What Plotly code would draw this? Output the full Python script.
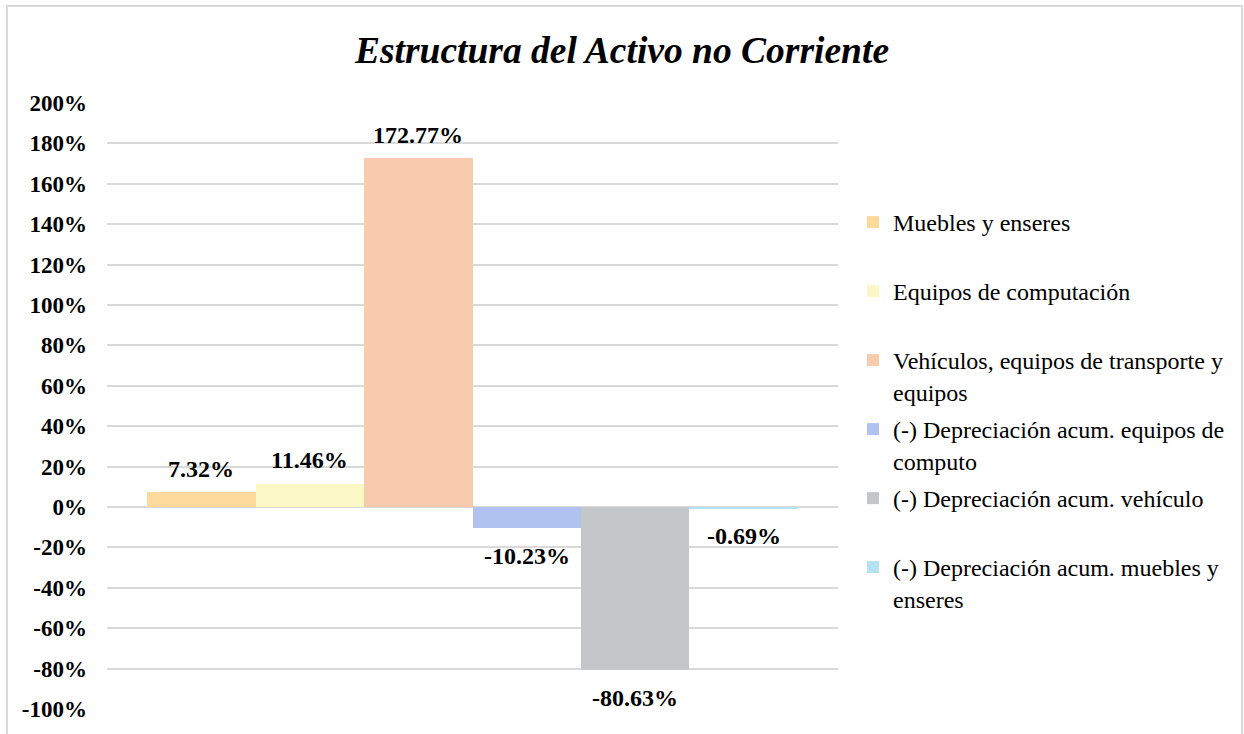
import plotly.graph_objects as go

# ---- data ----
series_names = [
    "Muebles y enseres",
    "Equipos de computación",
    "Vehículos, equipos de transporte y<br>equipos",
    "(-) Depreciación acum. equipos de<br>computo",
    "(-) Depreciación acum. vehículo",
    "(-) Depreciación acum. muebles y<br>enseres",
]
series_keys = ["Muebles", "Equipos", "Vehiculos", "DepComputo", "DepVehiculo", "DepMuebles"]
values = [7.32, 11.46, 172.77, -10.23, -80.63, -0.69]   # percent
colors = ["#FDD99B", "#FCF8C5", "#F8CBAD", "#AFC2F0", "#C5C6C7", "#B3E2F1"]

tick_vals = list(range(-100, 201, 20))
tick_text = [f"{v}%" for v in tick_vals]

FONT = "Liberation Serif, Times New Roman, serif"
W, H = 1244, 734

fig = go.Figure()
for i, (name, key, v, c) in enumerate(zip(series_names, series_keys, values, colors)):
    label = name if "<br>" in name else name + "<br>&nbsp;"
    fig.add_trace(go.Bar(
        x=[key], y=[v / 100.0], name=label, marker=dict(color=c, line=dict(width=0)),
        legendgroup=f"g{i}", hoverinfo="skip",
    ))
    fig.add_annotation(
        x=key, y=v / 100.0, text=f"<b>{v:.2f}%</b>", showarrow=False,
        yanchor="middle", yshift=23.5 if v >= 0 else -28,
        font=dict(family=FONT, size=24, color="#000000"),
    )

fig.update_layout(
    width=W, height=H,
    margin=dict(l=107, r=406, t=103, b=25, autoexpand=False),
    paper_bgcolor="white", plot_bgcolor="white",
    barmode="overlay", bargap=0,
    title=dict(text="<b><i>Estructura del Activo no Corriente</i></b>",
               x=0.5, xanchor="center", xref="container",
               y=1 - 50 / H, yanchor="middle", yref="container",
               font=dict(family=FONT, size=37.5, color="#000000")),
    xaxis=dict(showticklabels=False, showgrid=False, zeroline=False, showline=False,
               ticks="", range=[-0.5 - 0.37, 5.5 + 0.37], fixedrange=True),
    yaxis=dict(range=[-1, 2], tickvals=[v / 100 for v in tick_vals], ticktext=tick_text,
               showgrid=True, gridcolor="#D9D9D9", gridwidth=1.5,
               zeroline=True, zerolinecolor="#D9D9D9", zerolinewidth=1.5,
               showline=False, ticks="", ticklabelstandoff=19,
               tickfont=dict(family=FONT, size=23, color="#000000", weight="bold")),
    legend=dict(x=853 / W, xref="container", xanchor="left",
                y=1 - 200 / H, yref="container", yanchor="top",
                valign="top", tracegroupgap=3.6, itemwidth=30, maxheight=700,
                font=dict(family=FONT, size=24, color="#000000"),
                bgcolor="rgba(0,0,0,0)", borderwidth=0),
    showlegend=True,
    shapes=[dict(type="rect", xref="paper", yref="paper",
                 x0=(7 - 107) / 731, x1=(1242 - 107) / 731,
                 y0=(709 - 745) / 606, y1=(709 - 6) / 606,
                 line=dict(color="#D9D9D9", width=2), fillcolor="rgba(0,0,0,0)", layer="below")],
)

fig.write_html("out.html", config={"displayModeBar": False},
               post_script="document.body.style.margin='0';document.body.style.overflow='hidden';")
